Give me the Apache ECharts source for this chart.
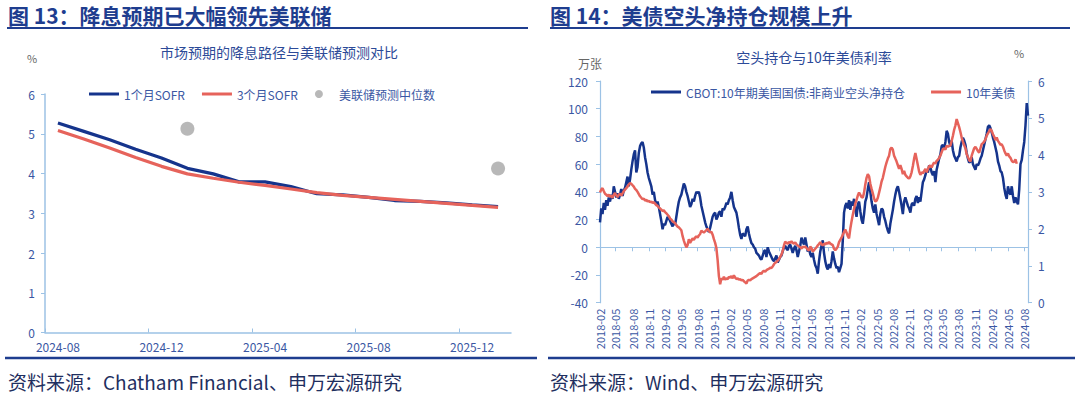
<!DOCTYPE html>
<html><head><meta charset="utf-8">
<script src="https://cdn.jsdelivr.net/npm/echarts@6/dist/echarts.min.js"></script>
<style>html,body{margin:0;padding:0;background:#fff}#c{width:1080px;height:396px}</style>
</head><body><div id="c"></div>
<script>
// ---------- Left chart data ----------
const leftMonths = ['2024-08','2024-09','2024-10','2024-11','2024-12','2025-01','2025-02','2025-03','2025-04','2025-05','2025-06','2025-07','2025-08','2025-09','2025-10','2025-11','2025-12','2026-01'];
const leftTickLabels = ['2024-08','2024-12','2025-04','2025-08','2025-12'];
const sofr1m = [5.27,5.06,4.85,4.61,4.39,4.13,3.99,3.79,3.79,3.67,3.49,3.46,3.40,3.32,3.30,3.26,3.21,3.17];
const sofr3m = [5.08,4.87,4.64,4.40,4.18,3.99,3.88,3.78,3.70,3.61,3.52,3.45,3.40,3.35,3.30,3.25,3.20,3.15];
const fedDotMonths = ['2025-01','2026-01'];
const fedDotValues = [5.125,4.125];

// ---------- Right chart data (weekly) ----------
const weekStart = '2018-02-06';
const weekCount = 343;
const rightTickLabels = ['2018-02','2018-05','2018-08','2018-11','2019-02','2019-05','2019-08','2019-11','2020-02','2020-05','2020-08','2020-11','2021-02','2021-05','2021-08','2021-11','2022-02','2022-05','2022-08','2022-11','2023-02','2023-05','2023-08','2023-11','2024-02','2024-05','2024-08'];
const netShort = [
18,28,24,32,27,34,30,36,33,38,
35,44,40,36,39,35,38,42,37,41,
43,47,51,44,49,56,62,67,70,54,
58,68,73,75,76,72,65,60,54,50,
47,44,38,40,34,31,33,29,24,19,
13,17,16,19,22,21,19,17,15,18,
16,22,28,33,36,38,42,46,44,40,
37,33,29,31,35,33,37,40,39,40,
36,30,26,22,18,15,13,11,14,18,
22,24,25,20,22,25,26,22,28,27,
29,32,31,34,36,40,34,29,27,25,
20,14,9,6,10,9,8,13,15,10,
6,3,2,0,-1,-4,-5,-6,-8,-9,
-6,-3,-2,-7,0,-3,-5,-7,-9,-10,
-8,-6,-11,-9,-7,-6,-3,0,1,-1,
-2,1,2,-1,-4,-1,1,-2,-7,-3,
1,7,4,2,7,2,-3,-1,-5,-7,
-4,-9,-13,-15,-19,-10,-3,1,5,-4,
-10,-14,-16,-12,-15,-10,-3,-8,-12,-15,
-14,-18,-15,-12,5,25,30,32,28,34,
27,33,30,35,27,22,31,33,26,20,
17,24,33,36,42,47,40,33,28,25,
31,24,20,16,24,28,27,22,19,15,
12,10,17,22,27,33,38,42,44,40,
35,30,24,33,36,33,30,28,25,31,
32,30,35,37,32,36,33,40,47,49,
52,56,54,59,58,54,52,55,47,56,
60,64,67,73,74,71,76,84,82,76,
73,77,70,66,64,62,65,66,72,76,
79,77,74,68,64,61,62,65,60,58,
56,60,59,61,64,66,70,74,78,82,
87,88,86,83,79,76,72,68,62,59,
55,54,50,43,38,35,44,40,38,44,
37,32,36,33,31,42,60,63,70,76,
88,104,95];
const ust10y = [
2.98,3.06,3.10,3.02,2.95,2.92,2.88,2.93,2.86,2.90,
2.84,2.92,2.97,2.90,2.86,2.92,2.95,2.90,2.96,3.02,
3.06,3.10,3.14,3.20,3.24,3.22,3.18,3.14,3.08,3.05,
3.00,2.94,2.88,2.84,2.80,2.82,2.76,2.79,2.74,2.76,
2.72,2.74,2.70,2.72,2.68,2.64,2.62,2.58,2.55,2.52,
2.48,2.50,2.45,2.42,2.38,2.34,2.28,2.25,2.20,2.18,
2.15,2.10,2.06,2.04,2.00,1.96,1.80,1.68,1.58,1.50,
1.56,1.72,1.62,1.68,1.74,1.70,1.76,1.80,1.76,1.82,
1.86,1.95,1.92,1.90,1.93,1.96,2.00,1.95,1.90,1.92,
1.84,1.72,1.62,1.48,1.15,0.72,0.50,0.66,0.62,0.70,
0.62,0.66,0.64,0.70,0.68,0.72,0.66,0.74,0.68,0.64,
0.66,0.62,0.64,0.60,0.62,0.58,0.55,0.52,0.60,0.62,
0.60,0.64,0.66,0.68,0.70,0.72,0.75,0.78,0.80,0.78,
0.84,0.86,0.84,0.88,0.90,0.92,0.95,0.94,0.98,1.04,
1.08,1.10,1.14,1.18,1.24,1.30,1.40,1.55,1.65,1.62,
1.60,1.64,1.62,1.66,1.62,1.60,1.63,1.58,1.55,1.52,
1.50,1.46,1.52,1.50,1.52,1.48,1.44,1.41,1.52,1.48,
1.38,1.42,1.46,1.50,1.55,1.59,1.64,1.58,1.55,1.60,
1.58,1.62,1.60,1.64,1.60,1.58,1.56,1.46,1.42,1.46,
1.52,1.64,1.70,1.76,1.84,1.91,1.98,1.90,1.80,1.74,
2.00,2.20,2.38,2.54,2.68,2.78,2.90,2.98,2.92,2.86,
2.84,2.98,3.20,3.38,3.48,3.42,3.22,3.08,2.96,2.82,
2.74,2.76,2.84,2.98,3.12,3.28,3.38,3.53,3.68,3.80,
3.90,3.98,4.16,4.20,4.14,3.98,3.90,3.82,3.72,3.62,
3.72,3.62,3.48,3.57,3.46,3.42,3.38,3.36,3.42,3.53,
3.70,3.90,4.05,3.89,3.72,3.55,3.46,3.53,3.50,3.56,
3.62,3.53,3.62,3.69,3.71,3.66,3.74,3.80,3.76,3.84,
3.87,3.92,3.98,4.07,4.16,4.18,4.14,4.25,4.22,4.24,
4.25,4.38,4.52,4.68,4.80,4.97,4.86,4.75,4.62,4.47,
4.36,4.26,4.18,4.02,3.94,3.86,3.82,3.98,4.08,4.18,
4.22,4.16,4.10,4.06,4.18,4.29,4.32,4.36,4.42,4.52,
4.58,4.64,4.70,4.65,4.56,4.49,4.40,4.47,4.38,4.33,
4.27,4.29,4.22,4.12,4.04,3.98,4.04,3.96,3.92,3.84,
3.80,3.82,3.88,3.76];

// ---------- derived ----------
const weeks = [];
{
  const t0 = new Date(weekStart + 'T00:00:00Z').getTime();
  for (let i = 0; i < weekCount; i++) weeks.push(new Date(t0 + i * 7 * 86400000).toISOString().slice(0, 10));
}
const tickIdx = new Set();
{
  const seen = new Set();
  weeks.forEach((d, i) => { const m = d.slice(0, 7); if (rightTickLabels.includes(m) && !seen.has(m)) { seen.add(m); tickIdx.add(i); } });
}
const leftTickValues = leftTickLabels.map(l => leftMonths.indexOf(l));
const leftLabelValues = leftTickValues.map(v => v + 0.5);

const BLUE = '#15348c', RED = '#e6635b', GRAY = '#a6a6a6';
const AXIS = '#9cc2e5', LABEL = '#3a57a3', HEAD = '#1e3d8f', MUTED = '#666666';
const FONT = '"Noto Sans CJK SC","Noto Sans",sans-serif';
const LINE_ICON = 'path://M0 0H30V3H0Z';

const chart = echarts.init(document.getElementById('c'), null, { renderer: 'svg' });
chart.setOption({
  animation: false,
  textStyle: { fontFamily: FONT },
  title: [
    { text: '市场预期的降息路径与美联储预测对比', left: 274, top: 40, textAlign: 'center', textStyle: { fontSize: 14, fontWeight: 'normal', color: '#2c4a98', fontFamily: FONT } },
    { text: '空头持仓与10年美债利率', left: 809, top: 45, textAlign: 'center', textStyle: { fontSize: 14, fontWeight: 'normal', color: '#2c4a98', fontFamily: FONT } }
  ],
  legend: [
    { left: 84, top: 83, itemWidth: 30, itemHeight: 8, itemGap: 17, textStyle: { color: LABEL, fontSize: 12, fontFamily: FONT },
      data: [{ name: '1个月SOFR', icon: LINE_ICON }, { name: '3个月SOFR', icon: LINE_ICON }, { name: '美联储预测中位数', icon: 'circle' }] },
    { left: 646, top: 81, itemWidth: 30, itemHeight: 8, itemGap: 26, textStyle: { color: LABEL, fontSize: 12, fontFamily: FONT },
      data: [{ name: 'CBOT:10年期美国国债:非商业空头净持仓', icon: LINE_ICON }, { name: '10年美债', icon: LINE_ICON }] }
  ],
  grid: [
    { left: 45, top: 94, width: 466, height: 238.5 },
    { left: 600, top: 81, width: 428, height: 221.7 }
  ],
  xAxis: [
    { gridIndex: 0, type: 'value', min: 0, max: 18,
      axisLine: { show: true, lineStyle: { color: AXIS, width: 1.5 } },
      axisTick: { show: true, inside: true, length: 4, lineStyle: { color: AXIS }, customValues: leftTickValues },
      axisLabel: { color: LABEL, fontSize: 12, margin: 8, customValues: leftLabelValues, formatter: v => leftMonths[Math.floor(v)] },
      splitLine: { show: false } },
    { gridIndex: 1, type: 'category', data: weeks, boundaryGap: false,
      axisLine: { show: true, onZero: true, lineStyle: { color: AXIS, width: 1.2 } },
      axisTick: { show: true, length: 4, interval: (i) => tickIdx.has(i), lineStyle: { color: AXIS } },
      axisLabel: { show: false }, splitLine: { show: false } },
    { gridIndex: 1, type: 'category', data: weeks, boundaryGap: false, position: 'bottom',
      axisLine: { show: false, onZero: false }, axisTick: { show: false },
      axisLabel: { show: true, interval: (i) => tickIdx.has(i), rotate: 90, margin: 6, fontSize: 11, color: LABEL, formatter: v => v.slice(0, 7) },
      splitLine: { show: false } }
  ],
  yAxis: [
    { gridIndex: 0, type: 'value', min: 0, max: 6, interval: 1,
      axisLine: { show: true, lineStyle: { color: AXIS, width: 1.5 } },
      axisTick: { show: true, length: 4, lineStyle: { color: AXIS } },
      axisLabel: { color: LABEL, fontSize: 12, margin: 10 }, splitLine: { show: false } },
    { gridIndex: 1, type: 'value', position: 'left', min: -40, max: 120, interval: 20,
      axisLine: { show: true, lineStyle: { color: AXIS, width: 1.2 } },
      axisTick: { show: true, length: 4, lineStyle: { color: AXIS } },
      axisLabel: { color: LABEL, fontSize: 12, margin: 12 }, splitLine: { show: false } },
    { gridIndex: 1, type: 'value', position: 'right', min: 0, max: 6, interval: 1,
      axisLine: { show: true, lineStyle: { color: AXIS, width: 1.2 } },
      axisTick: { show: true, length: 4, lineStyle: { color: AXIS } },
      axisLabel: { color: LABEL, fontSize: 12, margin: 10 }, splitLine: { show: false } }
  ],
  series: [
    { name: '1个月SOFR', type: 'line', xAxisIndex: 0, yAxisIndex: 0, symbol: 'none', color: BLUE,
      lineStyle: { width: 3.2, color: BLUE }, data: sofr1m.map((v, i) => [i + 0.5, v]) },
    { name: '3个月SOFR', type: 'line', xAxisIndex: 0, yAxisIndex: 0, symbol: 'none', color: RED,
      lineStyle: { width: 3.2, color: RED }, data: sofr3m.map((v, i) => [i + 0.5, v]) },
    { name: '美联储预测中位数', type: 'scatter', xAxisIndex: 0, yAxisIndex: 0, symbolSize: 14, color: GRAY,
      itemStyle: { color: GRAY }, data: fedDotMonths.map((m, k) => [leftMonths.indexOf(m) + 0.5, fedDotValues[k]]) },
    { name: 'CBOT:10年期美国国债:非商业空头净持仓', type: 'line', xAxisIndex: 1, yAxisIndex: 1, symbol: 'none', color: BLUE,
      lineStyle: { width: 2.5, color: BLUE }, data: netShort },
    { name: '10年美债', type: 'line', xAxisIndex: 1, yAxisIndex: 2, symbol: 'none', color: RED,
      lineStyle: { width: 2.5, color: RED }, data: ust10y }
  ],
  graphic: [
    { type: 'text', x: 8, y: 15, style: { text: '图 13：降息预期已大幅领先美联储', font: 'bold 21px ' + FONT, fill: HEAD, verticalAlign: 'middle' } },
    { type: 'text', x: 550, y: 15, style: { text: '图 14：美债空头净持仓规模上升', font: 'bold 21px ' + FONT, fill: HEAD, verticalAlign: 'middle' } },
    { type: 'line', shape: { x1: 7, y1: 28, x2: 528, y2: 28 }, style: { stroke: HEAD, lineWidth: 2 } },
    { type: 'line', shape: { x1: 550, y1: 28, x2: 1070, y2: 28 }, style: { stroke: HEAD, lineWidth: 2 } },
    { type: 'line', shape: { x1: 5, y1: 358, x2: 537, y2: 358 }, style: { stroke: HEAD, lineWidth: 2.5 } },
    { type: 'line', shape: { x1: 548, y1: 358, x2: 1075, y2: 358 }, style: { stroke: HEAD, lineWidth: 2.5 } },
    { type: 'text', x: 8, y: 381, style: { text: '资料来源：Chatham Financial、申万宏源研究', font: '19px ' + FONT, fill: '#1f2f60', verticalAlign: 'middle' } },
    { type: 'text', x: 550, y: 381, style: { text: '资料来源：Wind、申万宏源研究', font: '19px ' + FONT, fill: '#1f2f60', verticalAlign: 'middle' } },
    { type: 'text', x: 27, y: 58, style: { text: '%', font: '11px ' + FONT, fill: MUTED, verticalAlign: 'middle' } },
    { type: 'text', x: 578, y: 63, style: { text: '万张', font: '12px ' + FONT, fill: MUTED, verticalAlign: 'middle' } },
    { type: 'text', x: 1014, y: 53, style: { text: '%', font: '11px ' + FONT, fill: MUTED, verticalAlign: 'middle' } }
  ]
});
</script>
</body></html>
